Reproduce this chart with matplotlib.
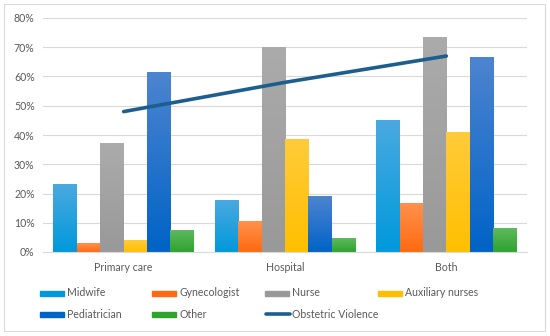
import numpy as np
import matplotlib
matplotlib.use("Agg")
import matplotlib.pyplot as plt
from matplotlib.colors import to_rgb, LinearSegmentedColormap
from matplotlib.patches import Rectangle
from matplotlib.lines import Line2D

plt.rcParams['font.family'] = ['Lato', 'DejaVu Sans']

# -------------------------------
# Data
# -------------------------------
categories = ["Primary care", "Hospital", "Both"]
midwife = [0.232, 0.175, 0.449]
gynecologist = [0.030, 0.105, 0.165]
nurse = [0.370, 0.700, 0.735]
auxiliary = [0.040, 0.385, 0.410]
pediatrician = [0.615, 0.190, 0.665]
other = [0.075, 0.045, 0.082]
obstetric_violence = [0.480, 0.580, 0.670]

series = [
    ("Midwife", midwife, "#4aa9e0", "#0099dc"),
    ("Gynecologist", gynecologist, "#ff914d", "#ff6a10"),
    ("Nurse", nurse, "#ababab", "#999999"),
    ("Auxiliary nurses", auxiliary, "#ffcb3a", "#ffbf00"),
    ("Pediatrician", pediatrician, "#4d84d0", "#0063c6"),
    ("Other", other, "#5eb95e", "#2ea32e"),
]
line_color = "#1c5e8e"
text_color = "#595959"

fig = plt.figure(figsize=(5.5, 3.36), dpi=100)
ax = fig.add_axes([43 / 550, 1 - 252 / 336, 484 / 550, 234 / 336])

x = np.arange(len(categories))
n = len(series)
group_w = 0.87
bar_w = group_w / n

ax.set_xlim(-0.5, len(categories) - 0.5)
ax.set_ylim(0, 0.8)

for i, (label, vals, top, bottom) in enumerate(series):
    offs = x - group_w / 2 + bar_w * (i + 0.5)
    bars = ax.bar(offs, vals, width=bar_w, color=bottom, zorder=2, linewidth=0)
    cmap = LinearSegmentedColormap.from_list(label, [to_rgb(bottom), to_rgb(top)])
    grad = np.linspace(0, 1, 100).reshape(-1, 1)
    for b in bars:
        bx, by = b.get_x(), b.get_y()
        ax.imshow(grad, extent=[bx, bx + b.get_width(), by, by + b.get_height()],
                  origin="lower", cmap=cmap, aspect="auto", zorder=2.5)

ax.plot(x, obstetric_violence, color=line_color, lw=2.6,
        solid_capstyle="round", zorder=4)

ax.set_xlim(-0.5, len(categories) - 0.5)
ax.set_ylim(0, 0.8)
ax.set_yticks(np.arange(0, 0.81, 0.1))
ax.set_yticklabels([f"{int(round(v * 100))}%" for v in np.arange(0, 0.81, 0.1)])
ax.set_xticks(x)
ax.set_xticklabels(categories)
ax.tick_params(length=0, colors=text_color, labelsize=7.6)
ax.tick_params(axis="x", pad=7)
ax.tick_params(axis="y", pad=6)
ax.grid(axis="y", color="#d9d9d9", lw=0.8, zorder=0)
ax.set_axisbelow(True)
for s in ["top", "right", "left"]:
    ax.spines[s].set_visible(False)
ax.spines["bottom"].set_color("#d9d9d9")
ax.spines["bottom"].set_linewidth(0.8)

# outer chart border
fig.patches.append(Rectangle((4 / 550, 1 - 331 / 336), 541 / 550, 327 / 336,
                             transform=fig.transFigure, fill=False,
                             edgecolor="#d9d9d9", lw=0.8))

# -------------------------------
# Legend (two rows, four equal columns)
# -------------------------------
entries = [(s[0], s[3], "bar") for s in series] + [("Obstetric Violence", line_color, "line")]
col_x = [40, 152, 265, 378]
row_y = [293, 314]
W, H = 550.0, 336.0
for k, (label, color, kind) in enumerate(entries):
    cx = col_x[k % 4]
    cy = row_y[k // 4]
    if kind == "bar":
        fig.patches.append(Rectangle((cx / W, 1 - (cy + 2.5) / H), 24 / W, 5 / H,
                                     transform=fig.transFigure, color=color))
    else:
        fig.lines.append(Line2D([(cx + 1) / W, (cx + 25) / W], [1 - cy / H, 1 - cy / H],
                                transform=fig.transFigure, color=color, lw=2.6,
                                solid_capstyle="round"))
    fig.text((cx + 27) / W, 1 - cy / H, label, color=text_color, fontsize=7.6,
             va="center", ha="left")

plt.savefig("out.png", dpi=100)
plt.close()
